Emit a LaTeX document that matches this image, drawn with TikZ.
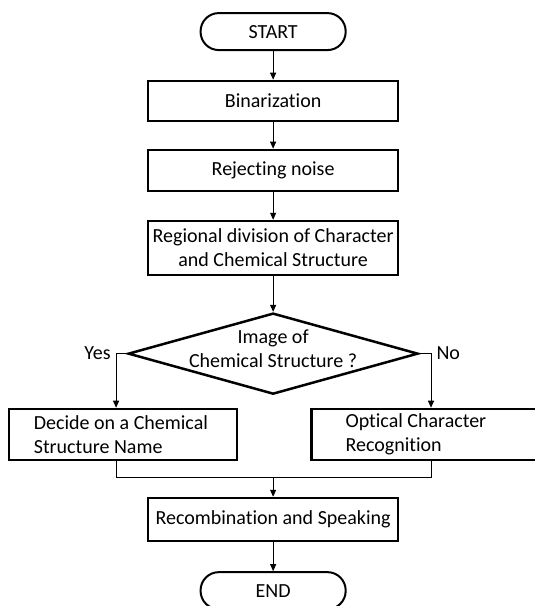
\documentclass[tikz,border=0pt]{standalone}
\usepackage{fontspec}
\setmainfont{Carlito}[Ligatures={NoCommon,NoContextual}]
\usetikzlibrary{shapes.geometric,arrows.meta}
\begin{document}
\begin{tikzpicture}[
  font=\fontsize{20}{24}\selectfont,
  line width=1pt,
  >={Triangle[length=7pt,width=6pt]},
  stepbox/.style={draw, line width=2.5pt, minimum width=8.79cm, align=center},
  termbox/.style={draw, line width=2pt, rounded corners=0.64cm, minimum width=5.10cm, minimum height=1.30cm},
  sidebox/.style={draw, line width=2.5pt, minimum height=1.79cm, align=flush left},
  decision/.style={draw, diamond, line width=2.5pt, minimum width=10.19cm, minimum height=2.85cm, inner sep=0pt}
]
  \useasboundingbox (0,0) rectangle (18.77,-21.30);

  \node[termbox] (start) at (9.60,-1.11) {START};
  \node[stepbox, minimum height=1.41cm] (binar) at (9.60,-3.55) {Binarization};
  \node[stepbox, minimum height=1.44cm] (noise) at (9.60,-5.99) {Rejecting noise};
  \node[stepbox, minimum height=1.90cm] (region) at (9.60,-8.72) {Regional division of Character\\and Chemical Structure};
  \node[decision, label={[align=center, yshift=5pt]center:Image of\\Chemical Structure ?}] (decide) at (9.60,-12.43) {};
  \node[sidebox, minimum width=8.01cm, text width=6.26cm, inner xsep=0.88cm] (chemname) at (4.32,-15.27) {\mbox{Decide on a Chemical}\\Structure Name};
  \node[sidebox, minimum width=8.23cm, text width=5.83cm, inner xsep=1.2cm] (ocr) at (15.06,-15.27) {Optical Character\\Recognition};
  \node[stepbox, minimum height=1.51cm] (speak) at (9.60,-18.26) {Recombination and Speaking};
  \node[termbox] (stop) at (9.60,-20.76) {END};

  \coordinate (yesturn) at (4.08,-12.43);
  \coordinate (noturn) at (15.15,-12.43);
  \coordinate (join) at (9.60,-16.80);

  \node[anchor=east, inner sep=5pt] (yes) at (yesturn) {Yes};
  \node[anchor=west, inner sep=5pt] (no) at (noturn) {No};

  \draw[->] (start) -- (binar);
  \draw[->] (binar) -- (noise);
  \draw[->] (noise) -- (region);
  \draw[->] (region) -- (decide);
  \draw[->] (decide.west) -- (yesturn) -- (yesturn |- chemname.north);
  \draw[->] (decide.east) -- (noturn) -- (noturn |- ocr.north);
  \draw (yesturn |- chemname.south) -- (yesturn |- join) -- (noturn |- join) -- (noturn |- ocr.south);
  \draw[->] (join) -- (speak);
  \draw[->] (speak) -- (stop);

\end{tikzpicture}
\end{document}
